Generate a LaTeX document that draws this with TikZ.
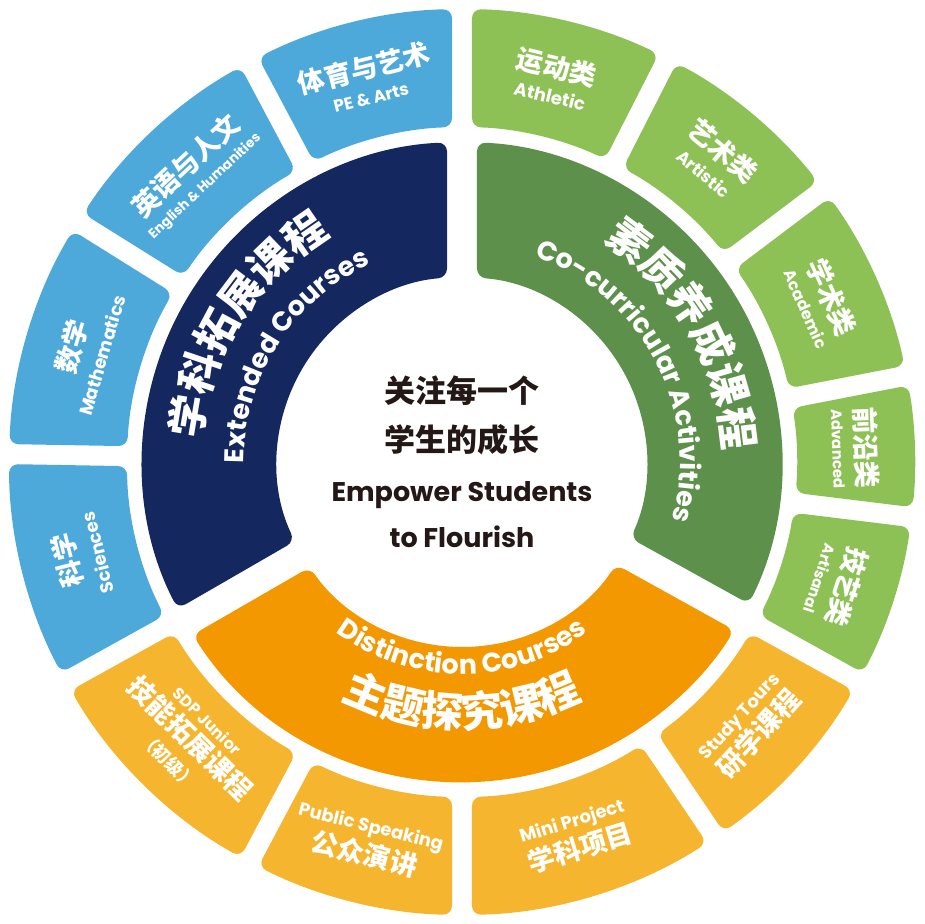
\documentclass[tikz,border=0pt]{standalone}
\usepackage{fontspec}
\setmainfont{Poppins}
\newfontfamily\zhf{Noto Sans CJK SC}
\newcommand\zh[1]{{\zhf\bfseries #1}}
\usetikzlibrary{decorations.text}
\definecolor{blueL}{HTML}{4DA9DA}
\definecolor{navy}{HTML}{14285F}
\definecolor{greenL}{HTML}{8EC155}
\definecolor{greenD}{HTML}{5D904A}
\definecolor{orangeL}{HTML}{F6B52E}
\definecolor{orangeD}{HTML}{F39800}
\definecolor{ink}{HTML}{231815}
\newcommand\sector[6]{% start end rin rout color halfgap
  \pgfmathsetmacro\din{asin(#6/#3)}%
  \pgfmathsetmacro\dout{asin(#6/#4)}%
  \fill[#5,rounded corners=9pt] ({#1+\dout}:#4pt) arc[start angle={#1+\dout},end angle={#2-\dout},radius=#4pt] -- ({#2-\din}:#3pt) arc[start angle={#2-\din},end angle={#1+\din},radius=#3pt] -- cycle;}
\tikzset{
  otext/.style={text=white,align=center,inner sep=0pt,font=\bfseries\fontsize{24pt}{30pt}\selectfont},
  ctext/.style={text=ink,align=center,inner sep=0pt,font=\bfseries}
}
\newcommand\en[2]{{\fontsize{#1}{#1}\selectfont #2}}
\newcommand\cn[1]{{\fontsize{27pt}{30pt}\selectfont\zh{#1}}}
\begin{document}
\begin{tikzpicture}
\useasboundingbox (-462pt,-462pt) rectangle (462pt,462pt);
% inner ring
\sector{90}{210}{185}{320}{navy}{15}
\sector{210}{331}{185}{320}{orangeD}{15}
\sector{-29}{90}{185}{320}{greenD}{15}
% outer ring
\sector{90}{118}{335}{453}{blueL}{10}
\sector{118}{148}{335}{453}{blueL}{10}
\sector{148}{179}{335}{453}{blueL}{10}
\sector{179}{209}{335}{453}{blueL}{10}
\sector{209}{242}{335}{453}{orangeL}{10}
\sector{242}{270}{335}{453}{orangeL}{10}
\sector{270}{304}{335}{453}{orangeL}{10}
\sector{304}{331}{335}{453}{orangeL}{10}
\sector{-29}{-7}{335}{453}{greenL}{10}
\sector{-7}{11}{335}{453}{greenL}{10}
\sector{11}{37}{335}{453}{greenL}{10}
\sector{37}{63}{335}{453}{greenL}{10}
\sector{63}{90}{335}{453}{greenL}{10}
% outer texts
\node[otext,rotate=14] (b1) at (104:394pt) {\cn{体育与艺术}\\[-4pt]\en{17pt}{PE \& Arts}};
\node[otext,rotate=43] (b2) at (133:394pt) {\cn{英语与人文}\\[-8pt]\en{13.5pt}{English \& Humanities}};
\node[otext,rotate=73.5] (b3) at (163.5:394pt) {\cn{数学}\\[-2pt]\en{18pt}{Mathematics}};
\node[otext,rotate=104] (b4) at (194:394pt) {\cn{科学}\\[-2pt]\en{18pt}{Sciences}};
\node[otext,rotate=-44.5] (o1) at (225.5:392pt) {\en{16pt}{SDP Junior}\\[-2pt]\cn{技能拓展课程}\\[-2pt]\en{18pt}{\zh{（初级）}}};
\node[otext,rotate=-14] (o2) at (256:392pt) {\en{18pt}{Public Speaking}\\[2pt]\cn{公众演讲}};
\node[otext,rotate=17] (o3) at (287:392pt) {\en{18pt}{Mini Project}\\[2pt]\cn{学科项目}};
\node[otext,rotate=47.5] (o4) at (317.5:392pt) {\en{18pt}{Study Tours}\\[0pt]\cn{研学课程}};
\node[otext,rotate=-108] (g5) at (-18:394pt) {\cn{技艺类}\\[-6pt]\en{15pt}{Artisanal}};
\node[otext,rotate=-88] (g4) at (2:394pt) {\cn{前沿类}\\[-6pt]\en{15pt}{Advanced}};
\node[otext,rotate=-66] (g3) at (24:394pt) {\cn{学术类}\\[-6pt]\en{16pt}{Academic}};
\node[otext,rotate=-40] (g2) at (50:394pt) {\cn{艺术类}\\[-4pt]\en{17pt}{Artistic}};
\node[otext,rotate=-13.5] (g1) at (76.5:394pt) {\cn{运动类}\\[-4pt]\en{18pt}{Athletic}};
% inner curved texts
\path[decorate,decoration={text along path,text align=center,text={|\color{white}\fontsize{42pt}{42pt}\zhf\bfseries|学科拓展课程}}] (190:262pt) arc[start angle=190,end angle=105,radius=262pt];
\path[decorate,decoration={text along path,text align=center,text={|\color{white}\fontsize{27pt}{27pt}\selectfont\bfseries|Extended Courses}}] (195:218pt) arc[start angle=195,end angle=100,radius=218pt];
\path[decorate,decoration={text along path,text align=center,text={|\color{white}\fontsize{42pt}{42pt}\zhf\bfseries|素质养成课程}}] (80:262pt) arc[start angle=80,end angle=-20,radius=262pt];
\path[decorate,decoration={text along path,text align=center,text={|\color{white}\fontsize{27pt}{27pt}\selectfont\bfseries|Co-curricular Activities}}] (90:218pt) arc[start angle=90,end angle=-35,radius=218pt];
\path[decorate,decoration={text along path,text align=center,text={|\color{white}\fontsize{27pt}{27pt}\selectfont\bfseries|Distinction Courses}}] (212:212pt) arc[start angle=212,end angle=328,radius=212pt];
\path[decorate,decoration={text along path,text align=center,text={|\color{white}\fontsize{42pt}{42pt}\zhf\bfseries|主题探究课程}}] (218:266pt) arc[start angle=218,end angle=322,radius=266pt];
% center
\node[ctext] (c1) at (0pt,71pt) {\fontsize{31pt}{31pt}\selectfont\zh{关注每一个}};
\node[ctext] (c2) at (0pt,22pt) {\fontsize{31pt}{31pt}\selectfont\zh{学生的成长}};
\node[ctext] (c3) at (0pt,-33pt) {\fontsize{27pt}{27pt}\selectfont Empower Students};
\node[ctext] (c4) at (0pt,-75pt) {\fontsize{27pt}{27pt}\selectfont to Flourish};
\end{tikzpicture}
\end{document}
